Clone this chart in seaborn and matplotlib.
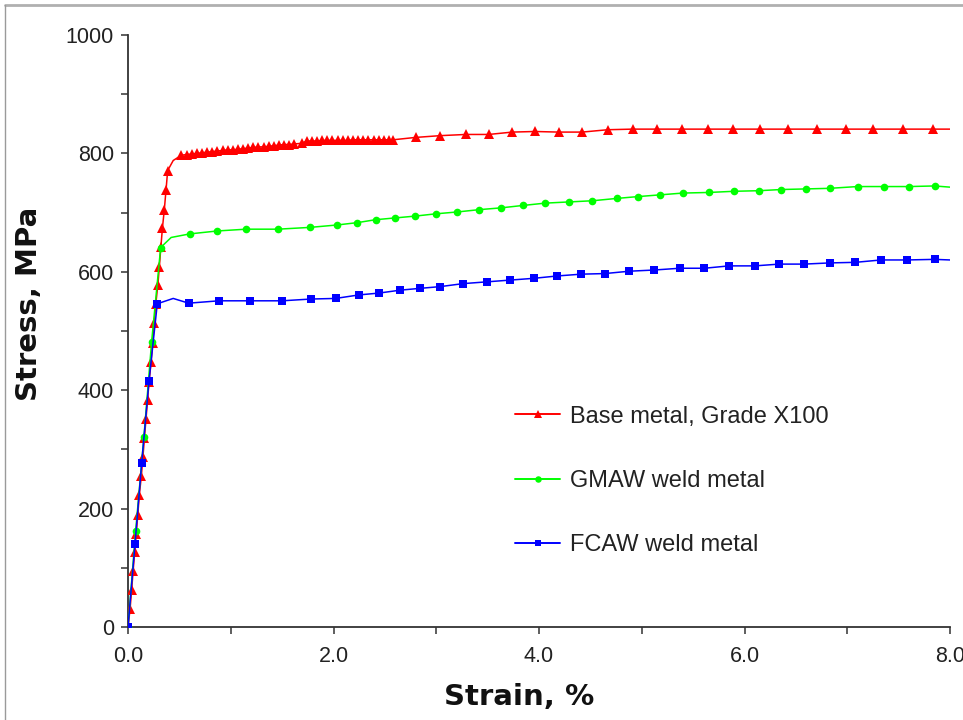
import matplotlib
matplotlib.use("Agg")
import matplotlib.pyplot as plt
from matplotlib.lines import Line2D
from matplotlib.ticker import MultipleLocator
import seaborn as sns
import pandas as pd

# Stress-strain curves (strain in %, stress in MPa)
base_strain = [0.0, 0.02, 0.035, 0.05, 0.065, 0.08, 0.095, 0.11, 0.13, 0.145, 0.16, 0.175,
               0.19, 0.205, 0.225, 0.24, 0.255, 0.27, 0.29, 0.305, 0.32, 0.335, 0.353, 0.37,
               0.386, 0.44,
               0.52, 0.57, 0.62, 0.67, 0.72, 0.77, 0.82, 0.87, 0.92, 0.97, 1.02, 1.07, 1.12,
               1.17, 1.22, 1.27, 1.32, 1.37, 1.42, 1.47, 1.52, 1.57, 1.62, 1.69,
               1.74, 1.79, 1.84, 1.89, 1.94, 1.99, 2.04, 2.09, 2.14, 2.19, 2.24, 2.29, 2.34,
               2.39, 2.44, 2.49, 2.54, 2.58,
               2.80, 3.04, 3.29, 3.51, 3.74, 3.96, 4.19, 4.42, 4.67, 4.91, 5.15, 5.39, 5.64,
               5.89, 6.15, 6.42, 6.71, 6.99, 7.25, 7.54, 7.83, 8.0]
base_stress = [0, 30, 62, 95, 127, 157, 189, 223, 255, 287, 319, 351,
               383, 414, 448, 480, 513, 545, 577, 608, 642, 674, 704, 738,
               771, 788,
               797, 798, 799, 800, 801, 802, 803, 804, 805, 806, 806, 807, 808,
               809, 810, 811, 811, 812, 813, 814, 815, 815, 816, 817,
               821, 821, 821, 822, 822, 822, 822, 822, 822, 823, 823, 823, 823,
               823, 823, 823, 823, 823,
               827, 830, 832, 832, 836, 837, 836, 836, 840, 841, 841, 841, 841,
               841, 841, 841, 841, 841, 841, 841, 841, 841]
base_unmarked = [0.44, 8.0]

gmaw_strain = [0.0, 0.075, 0.155, 0.23, 0.318, 0.42, 0.60, 0.87, 1.15, 1.46, 1.77, 2.03,
               2.23, 2.41, 2.60, 2.79, 3.00, 3.20, 3.42, 3.63, 3.84, 4.06, 4.29, 4.52,
               4.76, 4.96, 5.18, 5.40, 5.65, 5.90, 6.14, 6.36, 6.60, 6.83, 7.10, 7.36,
               7.60, 7.85, 8.0]
gmaw_stress = [0, 163, 321, 482, 641, 658, 664, 669, 672, 672, 675, 679,
               683, 688, 691, 694, 698, 701, 705, 708, 712, 716, 718, 720,
               724, 727, 730, 733, 734, 736, 737, 739, 740, 741, 744, 744,
               744, 745, 743]
gmaw_unmarked = [0.42, 8.0]

fcaw_strain = [0.0, 0.068, 0.133, 0.204, 0.285, 0.44, 0.59, 0.885, 1.19, 1.50, 1.78, 2.02,
               2.25, 2.44, 2.65, 2.84, 3.04, 3.26, 3.49, 3.72, 3.95, 4.18, 4.41, 4.64,
               4.88, 5.12, 5.37, 5.61, 5.85, 6.10, 6.34, 6.58, 6.83, 7.08, 7.33, 7.58,
               7.85, 8.0]
fcaw_stress = [0, 140, 277, 415, 546, 555, 547, 551, 551, 551, 554, 555,
               561, 564, 569, 572, 575, 580, 583, 586, 589, 593, 596, 597,
               601, 603, 606, 606, 610, 610, 613, 613, 615, 616, 620, 620,
               621, 620]
fcaw_unmarked = [0.44, 8.0]

series_names = ["Base metal, Grade X100", "GMAW weld metal", "FCAW weld metal"]
series_colors = ["#ff0000", "#00ff00", "#0000ff"]
series_markers = ["^", "o", "s"]
series_sizes = [7.5, 5.5, 5.5]

curves = [(base_strain, base_stress, base_unmarked),
          (gmaw_strain, gmaw_stress, gmaw_unmarked),
          (fcaw_strain, fcaw_stress, fcaw_unmarked)]

sns.set_theme(style="white")
plt.rcParams["font.family"] = ["Liberation Sans", "DejaVu Sans"]

fig = plt.figure(figsize=(9.63, 7.2), dpi=100)
ax = fig.add_axes([128 / 963, 1 - 627 / 720, 822 / 963, 592 / 720])

handles = []
for (xs, ys, skip), name, col, mk, ms in zip(curves, series_names, series_colors,
                                             series_markers, series_sizes):
    df = pd.DataFrame({"strain": xs, "stress": ys})
    marked = [i for i, v in enumerate(xs) if v not in skip]
    sns.lineplot(data=df, x="strain", y="stress", ax=ax, sort=False, estimator=None,
                 color=col, lw=1.1, marker=mk, markersize=ms, markeredgewidth=0,
                 markerfacecolor=col, markevery=marked, zorder=3)
    handles.append(Line2D([], [], color=col, lw=1.4, marker=mk, markersize=ms * 0.85,
                          markeredgewidth=0, label=name))

ax.set_xlim(0, 8.0)
ax.set_ylim(0, 1000)
ax.xaxis.set_minor_locator(MultipleLocator(1.0))
ax.yaxis.set_minor_locator(MultipleLocator(100))
ax.set_xticks([0, 2, 4, 6, 8])
ax.set_xticklabels(["0.0", "2.0", "4.0", "6.0", "8.0"])
ax.set_yticks([0, 200, 400, 600, 800, 1000])
ax.set_yticklabels(["0", "200", "400", "600", "800", "1000"])

for side in ("top", "right"):
    ax.spines[side].set_visible(False)
for side in ("left", "bottom"):
    ax.spines[side].set_color("#333333")
    ax.spines[side].set_linewidth(1.3)

ax.tick_params(which="both", direction="out", length=5, width=1.1, color="#333333",
               left=True, bottom=True)
ax.tick_params(which="major", labelsize=15.5, labelcolor="#222222", pad=5)
ax.tick_params(axis="x", which="major", pad=9)

title_font = dict(fontsize=21, fontweight="bold", color="#111111",
                  family=["DejaVu Sans"])
ax.set_xlabel("Strain, %", **title_font)
ax.set_ylabel("Stress, MPa", **title_font)
ax.xaxis.set_label_coords(0.476, -0.094)
ax.yaxis.set_label_coords(-0.104, 0.546)

leg = ax.legend(handles=handles, loc="upper left", bbox_to_anchor=(0.471, 0.374),
                frameon=False, fontsize=17, labelspacing=1.79, handlelength=1.9,
                handletextpad=0.42, borderaxespad=0, borderpad=0)
for t in leg.get_texts():
    t.set_color("#222222")

# outer frame of the chart area
fig.add_artist(Line2D([5 / 963, 1.0], [1 - 5 / 720, 1 - 5 / 720], transform=fig.transFigure,
                      color="#b0b0b0", lw=2.0))
fig.add_artist(Line2D([5 / 963, 5 / 963], [0.0, 1 - 5 / 720], transform=fig.transFigure,
                      color="#9a9a9a", lw=1.0))

fig.savefig("out.png", dpi=100)
